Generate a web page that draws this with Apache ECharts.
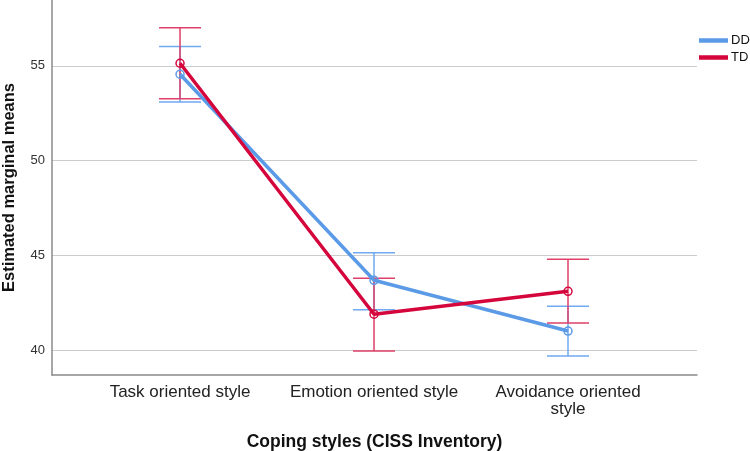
<!DOCTYPE html>
<html><head><meta charset="utf-8">
<script src="https://cdn.jsdelivr.net/npm/echarts@6/dist/echarts.min.js"></script>
<style>html,body{margin:0;padding:0;background:#fff}#c{width:750px;height:451px}</style>
</head><body><div id="c"></div>
<script>
const categories = ['Task oriented style', 'Emotion oriented style', 'Avoidance oriented\nstyle'];
const yTicks = [40, 45, 50, 55];
const ddMean = [54.56, 43.68, 41.00];
const ddLow  = [53.10, 42.13, 39.68];
const ddHigh = [56.02, 45.14, 42.31];
const tdMean = [55.14, 41.89, 43.10];
const tdLow  = [53.27, 39.95, 41.42];
const tdHigh = [57.02, 43.79, 44.79];

const blue = '#5b9ae6', blueEb = '#6fa9ef';
const red = '#d4063c', redEb = '#df3f69';
const font = 'Liberation Sans, Arial';

function errSeries(name, low, high, color) {
  return {
    type: 'custom', name: name + ' CI', z: 1, silent: true,
    data: low.map((l, i) => [i, l, high[i]]),
    renderItem(params, api) {
      const lo = api.coord([api.value(0), api.value(1)]);
      const hi = api.coord([api.value(0), api.value(2)]);
      const hw = 21;
      const style = { stroke: color, lineWidth: 1.5, fill: null };
      return { type: 'group', children: [
        { type: 'line', shape: { x1: lo[0], y1: lo[1], x2: hi[0], y2: hi[1] }, style },
        { type: 'line', shape: { x1: lo[0]-hw, y1: lo[1], x2: lo[0]+hw, y2: lo[1] }, style },
        { type: 'line', shape: { x1: hi[0]-hw, y1: hi[1], x2: hi[0]+hw, y2: hi[1] }, style }
      ]};
    }
  };
}
function lineSeries(name, vals, color) {
  return {
    type: 'line', name, z: 3,
    data: vals.map((v, i) => [i, v]),
    symbol: 'circle', symbolSize: 8,
    itemStyle: { color: 'rgba(255,255,255,0)', borderColor: color, borderWidth: 1.5 },
    lineStyle: { color, width: 3.5 },
    emphasis: { disabled: true }
  };
}

const chart = echarts.init(document.getElementById('c'));
chart.setOption({
  animation: false,
  backgroundColor: '#fff',
  grid: { left: 52, right: 53, top: 0, bottom: 76, containLabel: false, outerBoundsMode: 'none' },
  legend: {
    left: 699, top: 34, padding: 0, orient: 'vertical', itemGap: 4, itemWidth: 27, itemHeight: 11,
    data: [
      { name: 'DD', itemStyle: { color: blue }, lineStyle: { color: blue, width: 4 } },
      { name: 'TD', itemStyle: { color: red }, lineStyle: { color: red, width: 4 } }
    ],
    icon: 'path://M0,4L26,4L26,6.5L0,6.5Z',
    textStyle: { fontFamily: font, fontSize: 13, color: '#111', padding: [0, 0, 0, -1] }
  },
  xAxis: {
    type: 'value', min: -0.66, max: 2.665,
    name: 'Coping styles (CISS Inventory)', nameLocation: 'middle', nameGap: 58,
    nameTextStyle: { fontFamily: font, fontSize: 17.5, fontWeight: 'bold', color: '#111' },
    axisLine: { show: true, onZero: false, lineStyle: { color: '#8a8a8a', width: 1.5 } },
    axisTick: { show: false, customValues: [0, 1, 2] },
    splitLine: { show: false },
    axisLabel: {
      customValues: [0, 1, 2], margin: 9, lineHeight: 17,
      formatter: v => categories[Math.round(v)],
      fontFamily: font, fontSize: 17, color: '#222'
    }
  },
  yAxis: {
    type: 'value', min: 38.68, max: 58.48,
    name: 'Estimated marginal means', nameLocation: 'middle', nameGap: 34,
    nameTextStyle: { fontFamily: font, fontSize: 16.5, fontWeight: 'bold', color: '#111' },
    axisLine: { show: true, onZero: false, lineStyle: { color: '#8a8a8a', width: 1.5 } },
    axisTick: { show: false, customValues: yTicks },
    axisLabel: { customValues: yTicks, margin: 7, fontFamily: font, fontSize: 13, color: '#333' },
    splitLine: { show: true, lineStyle: { color: '#cccccc', width: 1.2 } }
  },
  series: [
    errSeries('DD', ddLow, ddHigh, blueEb),
    errSeries('TD', tdLow, tdHigh, redEb),
    lineSeries('DD', ddMean, blue),
    lineSeries('TD', tdMean, red)
  ]
});
</script></body></html>
